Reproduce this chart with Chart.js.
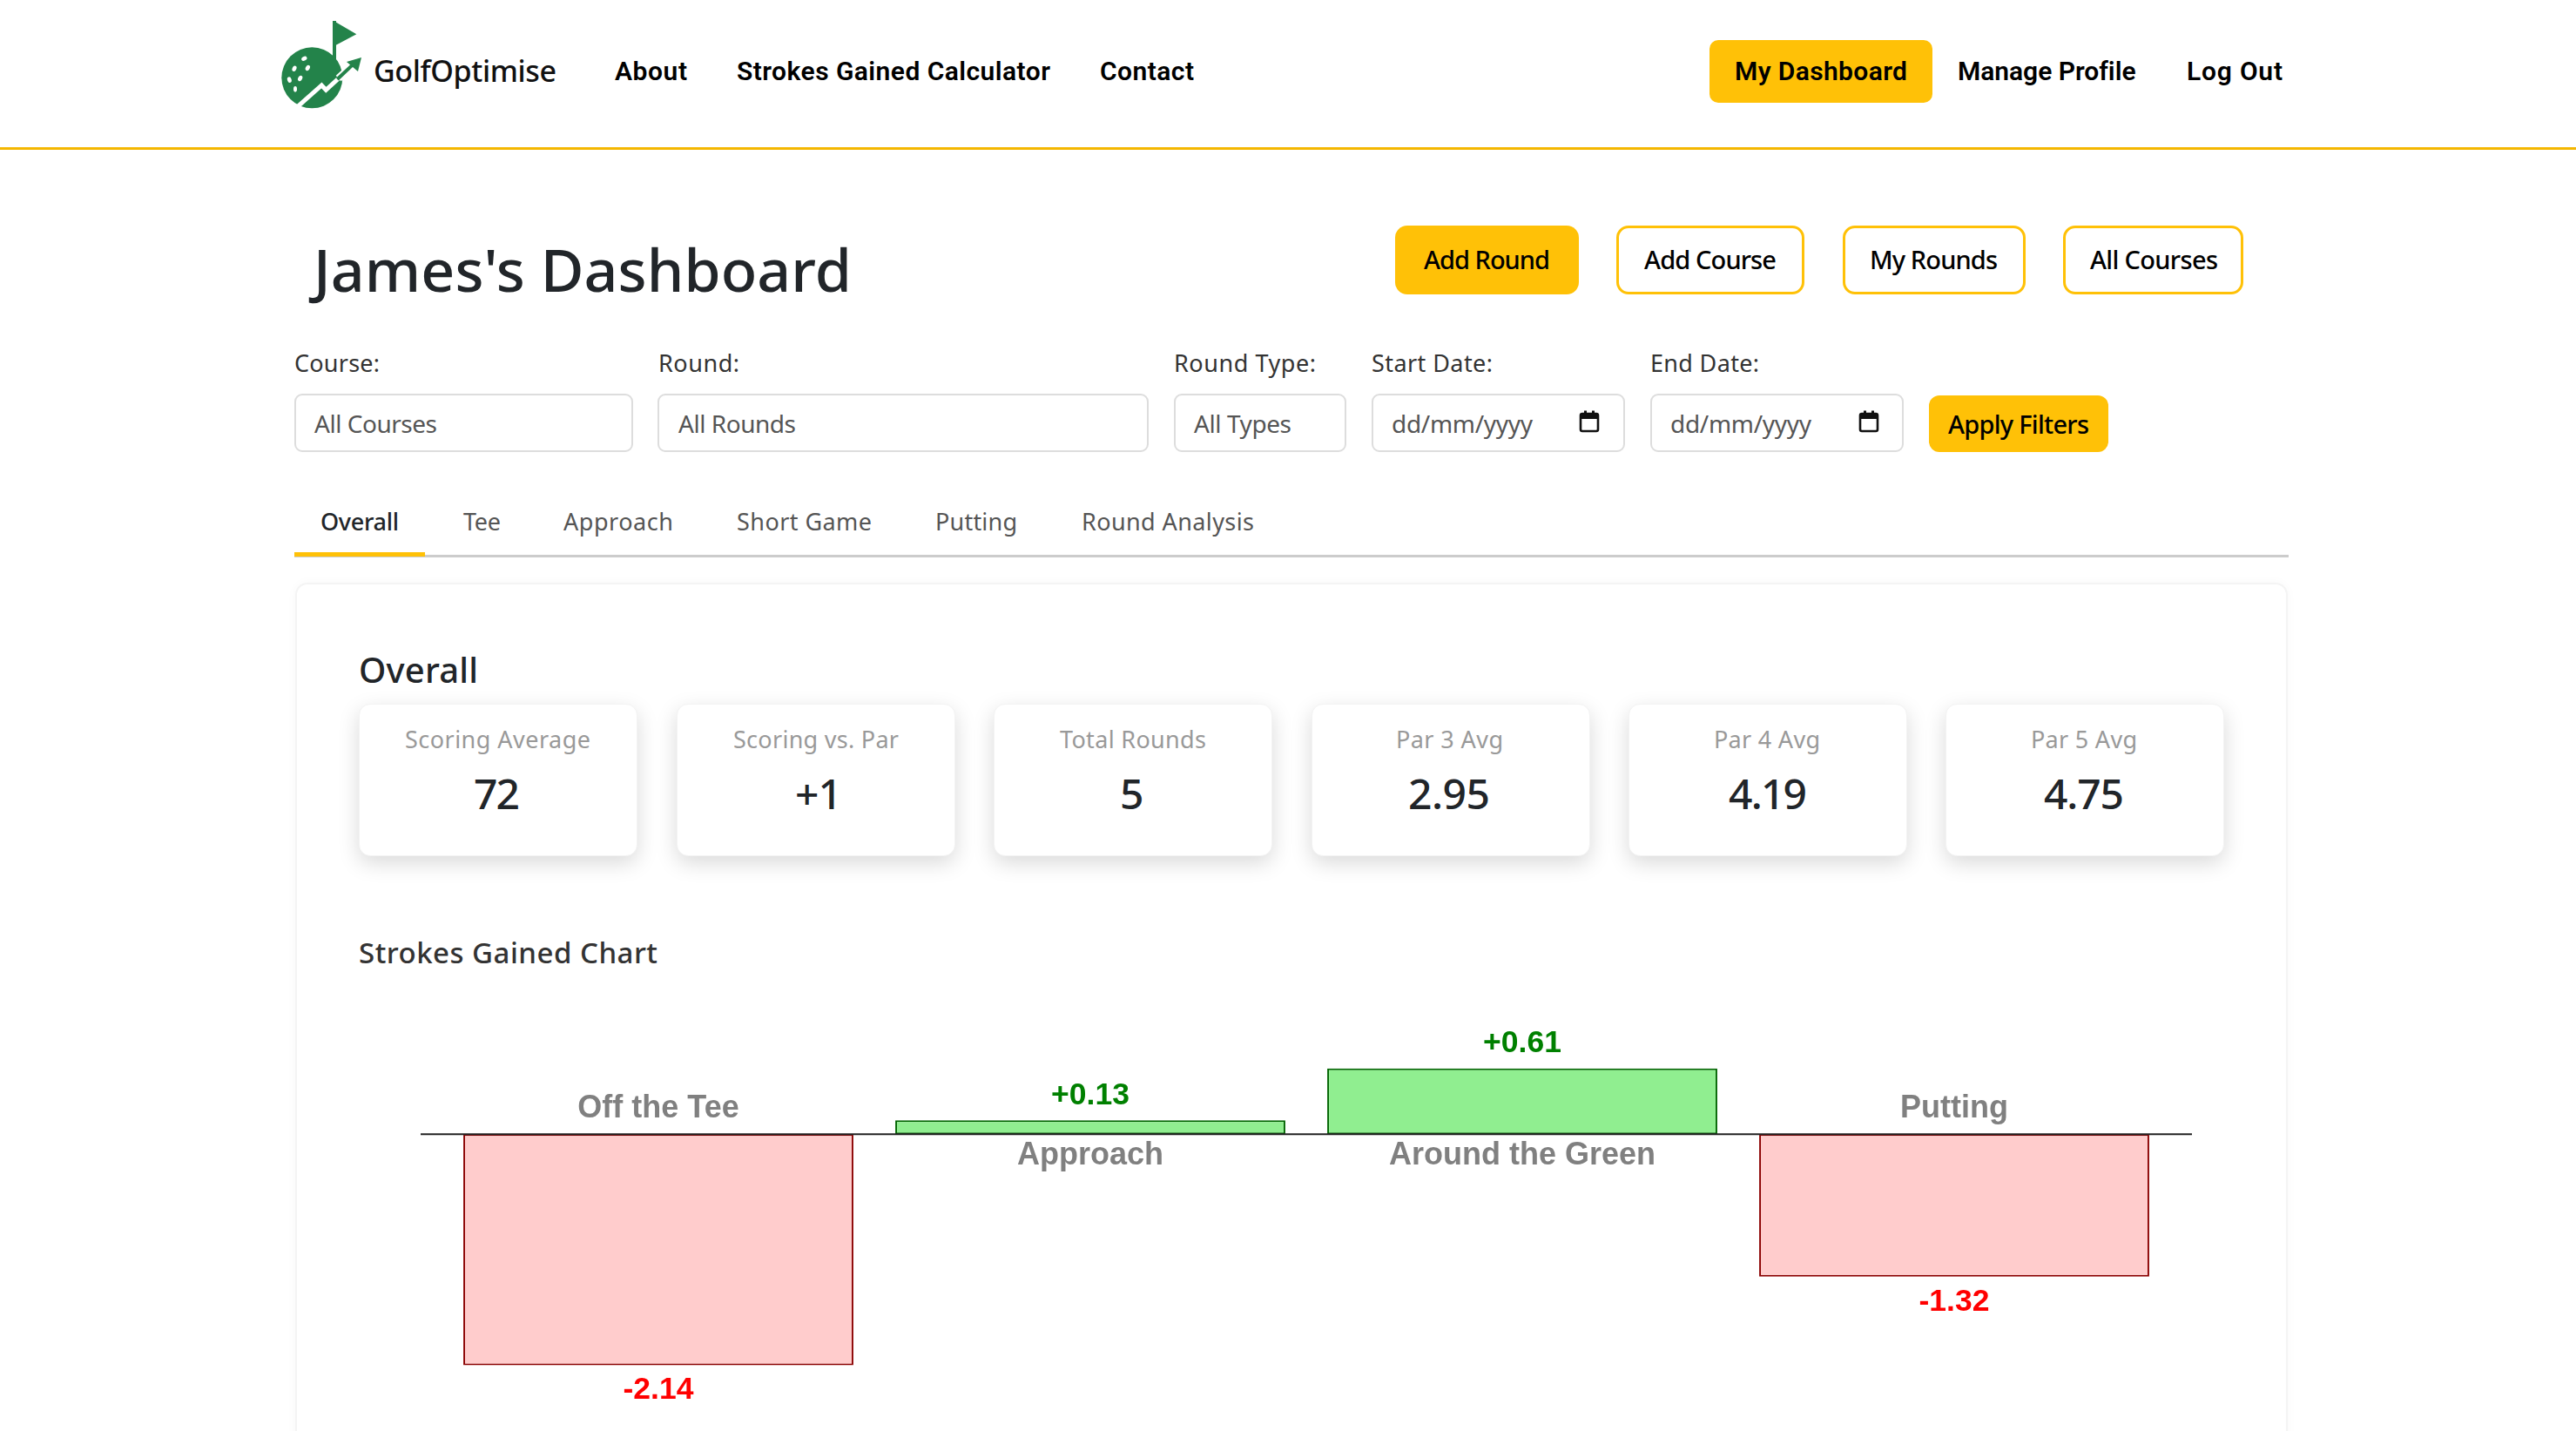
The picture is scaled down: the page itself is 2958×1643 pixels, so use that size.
<!DOCTYPE html>
<html lang="en">
<head>
<meta charset="utf-8">
<title>James's Dashboard</title>
<script src="https://cdn.jsdelivr.net/npm/chart.js@4"></script>
<style>
html,body{margin:0;padding:0;background:#fff;width:2958px;height:1643px;overflow:hidden}
#page{position:absolute;left:0;top:0;width:2958px;height:1643px;overflow:hidden}
.box{position:absolute;box-sizing:border-box}
.t{position:absolute;white-space:pre;line-height:normal}
#wrap{position:absolute;left:460px;top:1150px;width:2080px;height:480px}
</style>
</head>
<body>
<div id="page">
<svg class="box" style="left:310px;top:10px" width="340" height="130" viewBox="0 0 1020 390">
  <g fill="#23834a">
    <circle cx="145" cy="238" r="105"/>
    <rect x="216" y="42" width="12" height="135"/>
    <polygon points="226,46 298,88 226,126"/>
  </g>
  <polyline points="92,340 178,264 193,280 300,182" fill="none" stroke="#fff" stroke-width="15"/>
  <polyline points="236,240 290,190" fill="none" stroke="#fff" stroke-width="26"/>
  <polyline points="232,243 288,190" fill="none" stroke="#23834a" stroke-width="12"/>
  <polygon points="264,183 315,168 303,216" fill="#23834a"/>
  <g fill="#fff">
    <ellipse cx="118" cy="172" rx="10" ry="7" transform="rotate(-30 118 172)"/>
    <ellipse cx="84" cy="206" rx="7" ry="10" transform="rotate(25 84 206)"/>
    <ellipse cx="130" cy="204" rx="7" ry="10" transform="rotate(30 130 204)"/>
    <ellipse cx="67" cy="245" rx="7" ry="10" transform="rotate(-20 67 245)"/>
    <ellipse cx="104" cy="240" rx="7" ry="10" transform="rotate(30 104 240)"/>
    <ellipse cx="87" cy="277" rx="6" ry="10"/>
  </g>
</svg>
<div id="wrap"><canvas id="chart" width="2080" height="480"></canvas></div>
</div>
<script>
// ---- chart data ----
const categories = ["Off the Tee", "Approach", "Around the Green", "Putting"];
const strokesGained = [-2.14, 0.13, 0.61, -1.32];
const yRange = [-2.5, 1];

// ---- page content ----
const statLabels = ["Scoring Average", "Scoring vs. Par", "Total Rounds", "Par 3 Avg", "Par 4 Avg", "Par 5 Avg"];
const statValues = ["72", "+1", "5", "2.95", "4.19", "4.75"];
const statLabelX = [[465,678],[842,1032],[1217,1385],[1603,1726],[1968,2090],[2332,2454]];
const statValueX = [[544,597],[913,967],[1286,1313],[1617,1711],[1985,2075],[2347,2439]];
const statCardX = [412,777,1141,1506,1870,2234];
const tabNames = ["Overall", "Tee", "Approach", "Short Game", "Putting", "Round Analysis"];
const tabX = [[368,458],[532,575],[647,773],[846,1001],[1074,1168],[1242,1440]];

const BODY = '"Noto Sans"', NAV = 'Roboto';
const page = document.getElementById('page');

function box(x0, y0, x1, y1, css){
  const d = document.createElement('div');
  d.className = 'box';
  d.style.cssText = `left:${x0}px;top:${y0}px;width:${x1-x0}px;height:${y1-y0}px;${css}`;
  page.insertBefore(d, document.getElementById('wrap'));
  return d;
}
// Places text by left edge, right edge and baseline.
function text(str, x0, x1, base, size, weight, color, font){
  const s = document.createElement('div');
  s.className = 't';
  s.style.cssText = `left:${x0}px;top:0;font:${weight} ${size}px ${font||BODY};color:${color}`;
  s.textContent = str;
  page.appendChild(s);
  const w = s.getBoundingClientRect().width;
  if (str.length > 1) s.style.letterSpacing = ((x1-x0-w)/(str.length-1)) + 'px';
  const probe = document.createElement('span');
  probe.style.cssText = 'display:inline-block;width:0;height:0';
  s.appendChild(probe);
  const b = probe.getBoundingClientRect().bottom;
  s.removeChild(probe);
  s.style.top = (base-b) + 'px';
}
function calendar(x, y){
  const ns = 'http://www.w3.org/2000/svg';
  const v = document.createElementNS(ns,'svg');
  v.setAttribute('class','box'); v.setAttribute('width','24'); v.setAttribute('height','26');
  v.setAttribute('viewBox','0 0 24 26');
  v.style.left = x+'px'; v.style.top = y+'px';
  v.innerHTML = '<rect x="2" y="4" width="20" height="20" rx="2" fill="none" stroke="#111" stroke-width="2.6"/><rect x="2" y="4" width="20" height="6" fill="#111"/><rect x="6" y="0.5" width="3" height="5" fill="#111"/><rect x="15" y="0.5" width="3" height="5" fill="#111"/>';
  page.appendChild(v);
}

// Header
box(0,169,2958,172,'background:#f4b700');
text('GolfOptimise',429,639,94,34,500,'#111');
text('About',706,789,92,30,600,'#000',NAV);
text('Strokes Gained Calculator',846,1206,92,30,600,'#000',NAV);
text('Contact',1263,1371,92,30,600,'#000',NAV);
box(1963,46,2219,118,'background:#ffc107;border-radius:10px');
text('My Dashboard',1992,2190,92,30,600,'#000',NAV);
text('Manage Profile',2248,2452,92,30,600,'#000',NAV);
text('Log Out',2511,2621,92,30,600,'#000',NAV);

// Title row
text("James's Dashboard",360,978,335,68,500,'#212529');
box(1602,259,1813,338,'background:#ffc107;border-radius:14px');
text('Add Round',1635,1780,309,29,500,'#000');
for (const [label,a,b,c,d] of [['Add Course',1856,2072,1888,2040],['My Rounds',2116,2326,2147,2294],['All Courses',2369,2576,2400,2547]]){
  box(a,259,b,338,'background:#fff;border:3px solid #ffc107;border-radius:14px');
  text(label,c,d,309,29,500,'#000');
}

// Filters
for (const [label,a,b,base,x0,x1] of [
  ['All Courses',338,727,497,361,502],
  ['All Rounds',755,1319,497,779,914],
  ['All Types',1348,1546,497,1371,1483],
  ['dd/mm/yyyy',1575,1866,497,1598,1760],
  ['dd/mm/yyyy',1895,2186,497,1918,2080]]){
  box(a,452,b,519,'background:#fff;border:2px solid #ddd;border-radius:9px');
  text(label,x0,x1,base,28,400,'#555');
}
calendar(1813,471); calendar(2134,471);
for (const [label,a,b] of [['Course:',338,436],['Round:',756,849],['Round Type:',1348,1511],['Start Date:',1575,1714],['End Date:',1895,2020]])
  text(label,a,b,427,27,400,'#333');
box(2215,454,2421,519,'background:#ffc107;border-radius:12px');
text('Apply Filters',2237,2399,498,29,500,'#000');

// Tabs
box(338,637,2628,640,'background:#ccc');
box(338,634,488,639,'background:#ffc107');
tabNames.forEach((n,i)=>text(n,tabX[i][0],tabX[i][1],609,27,i?400:500,i?'#555':'#212529'));

// Panel
box(339,669,2627,1760,'background:#fff;border:2px solid #f4f4f4;border-radius:14px;box-shadow:0 0 12px rgba(0,0,0,.03)');
text('Overall',412,549,784,40,500,'#212529');
statLabels.forEach((l,i)=>{
  box(statCardX[i],808,statCardX[i]+320,983,'background:#fff;border:1px solid #f3f3f3;border-radius:13px;box-shadow:0 8px 24px rgba(0,0,0,.15)');
  text(l,statLabelX[i][0],statLabelX[i][1],859,27,400,'#999');
  text(statValues[i],statValueX[i][0],statValueX[i][1],929,48,500,'#212529');
});
text('Strokes Gained Chart',412,755,1106,33,500,'#333');

// Chart
const zeroLine = {
  id:'zeroLine',
  afterDatasetsDraw(chart){
    const {ctx, chartArea, scales} = chart, y = scales.y.getPixelForValue(0);
    ctx.save();
    ctx.strokeStyle = '#222'; ctx.lineWidth = 2;
    ctx.beginPath(); ctx.moveTo(chartArea.left-25, y); ctx.lineTo(chartArea.right+25, y); ctx.stroke();
    ctx.restore();
  }
};
const barText = {
  id:'barText',
  afterDraw(chart){
    const {ctx, scales} = chart, zero = scales.y.getPixelForValue(0);
    ctx.save();
    ctx.textAlign = 'center'; ctx.textBaseline = 'alphabetic';
    chart.getDatasetMeta(0).data.forEach((bar,i)=>{
      const v = strokesGained[i], up = v >= 0;
      ctx.font = 'bold 35.5px "Liberation Sans"';
      ctx.fillStyle = up ? '#008000' : '#ff0000';
      ctx.fillText((up?'+':'')+v.toFixed(2), bar.x, up ? bar.y-18.5 : bar.y+39);
      ctx.font = 'bold 36px "Liberation Sans"';
      ctx.fillStyle = '#808080';
      ctx.fillText(categories[i], bar.x, up ? zero+35 : zero-19);
    });
    ctx.restore();
  }
};
new Chart(document.getElementById('chart'),{
  type:'bar',
  data:{labels:categories,datasets:[{
    data:strokesGained,
    backgroundColor:strokesGained.map(v=>v>=0?'#90ee90':'#ffcccc'),
    borderColor:strokesGained.map(v=>v>=0?'#006400':'#8b0000'),
    borderWidth:2,
    borderSkipped:false,
    categoryPercentage:0.903,
    barPercentage:1
  }]},
  options:{
    responsive:false,animation:false,devicePixelRatio:1,
    layout:{padding:{left:48,right:48,top:28.4,bottom:18}},
    plugins:{legend:{display:false},tooltip:{enabled:false},title:{display:false}},
    scales:{
      x:{display:false,offset:true},
      y:{display:false,min:yRange[0],max:yRange[1]}
    }
  },
  plugins:[zeroLine,barText]
});
</script>
</body>
</html>
